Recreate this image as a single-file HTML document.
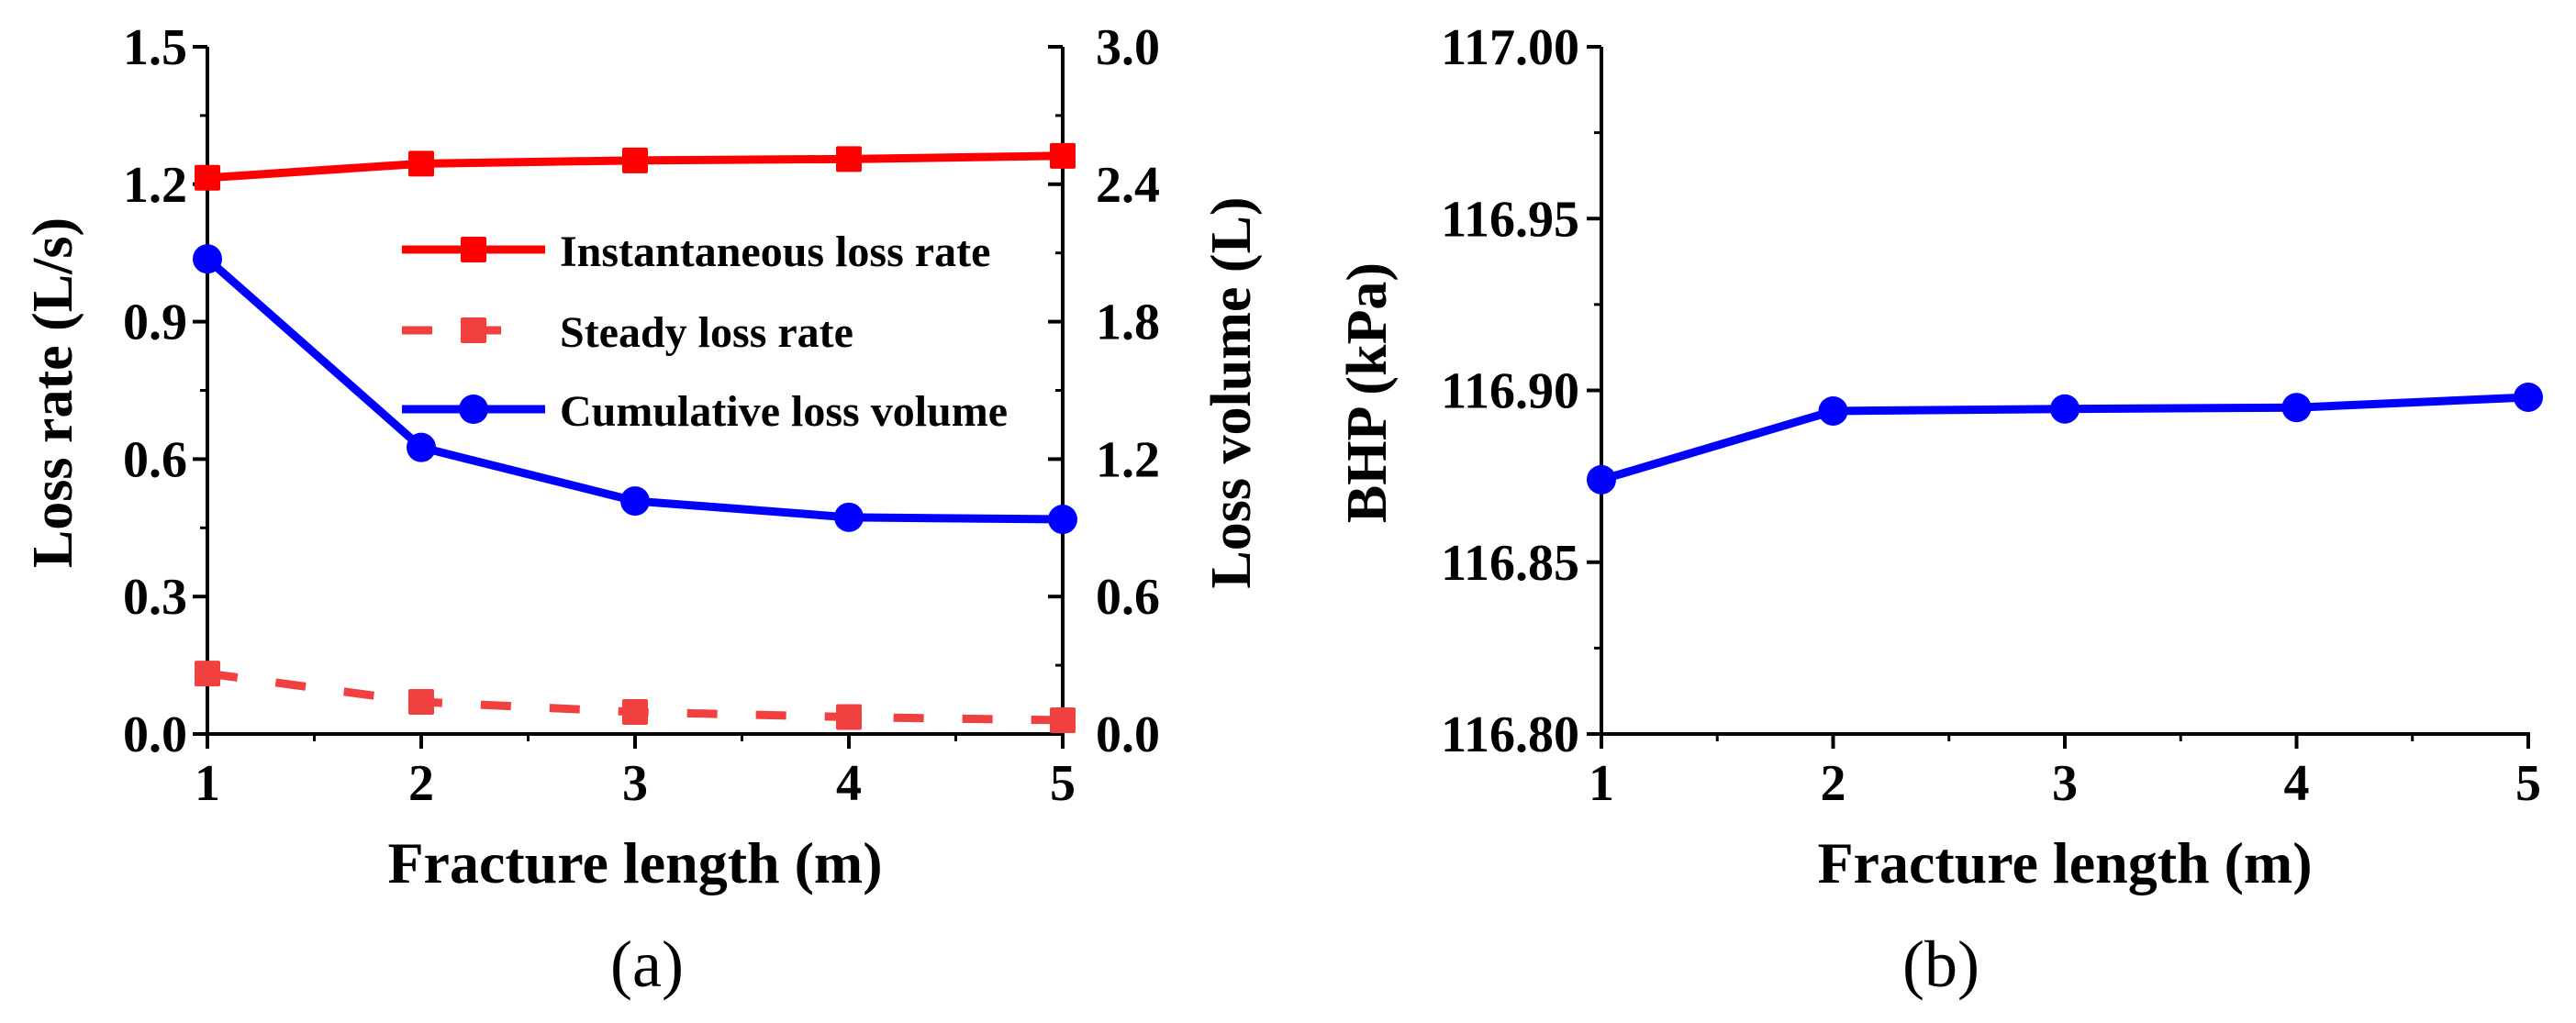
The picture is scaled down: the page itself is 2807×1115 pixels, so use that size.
<!DOCTYPE html>
<html><head><meta charset="utf-8">
<style>
html,body{margin:0;padding:0;background:#fff;}
svg{display:block;}
text{font-family:"Liberation Serif",serif;font-weight:bold;fill:#000;}
</style></head>
<body>
<svg id="fig" width="2807" height="1115" viewBox="0 0 2807 1115"></svg>
<script>
const xCats=[1,2,3,4,5];
const instRate=[1.214,1.245,1.252,1.255,1.262];
const steadyRate=[0.132,0.070,0.048,0.037,0.030];
const cumVol=[2.074,1.251,1.017,0.946,0.937];
const bhp=[116.874,116.894,116.8946,116.895,116.898];
const leftTicks=["0.0","0.3","0.6","0.9","1.2","1.5"];
const rightTicks=["0.0","0.6","1.2","1.8","2.4","3.0"];
const bhpTicks=["116.80","116.85","116.90","116.95","117.00"];
const xTicks=["1","2","3","4","5"];

const NS="http://www.w3.org/2000/svg";
const svg=document.getElementById('fig');
function mk(tag,attrs,parent){const e=document.createElementNS(NS,tag);for(const k in attrs)e.setAttribute(k,attrs[k]);(parent||svg).appendChild(e);return e;}
function txt(s,attrs,parent){const t=mk('text',attrs,parent);t.textContent=s;return t;}

const yTop=51,yBot=800;
const A={x0:226,x1:1158};
const B={x0:1745,x1:2755};
const xA=v=>A.x0+(v-1)/4*(A.x1-A.x0);
const xB=v=>B.x0+(v-1)/4*(B.x1-B.x0);
const yL=v=>yBot-v/1.5*(yBot-yTop);
const yR=v=>yBot-v/3*(yBot-yTop);
const yB=v=>yBot-(v-116.8)/0.2*(yBot-yTop);
const LW=9;

// ----- panel a -----
const ga=mk('g',{});


mk('line',{x1:A.x0,y1:yTop,x2:A.x0,y2:yBot+2,stroke:'#000','stroke-width':4},ga);
mk('line',{x1:A.x1,y1:yTop,x2:A.x1,y2:yBot+2,stroke:'#000','stroke-width':4},ga);
mk('line',{x1:A.x0-2,y1:yBot,x2:A.x1+2,y2:yBot,stroke:'#000','stroke-width':4},ga);
for(let i=0;i<leftTicks.length;i++){
  const v=i*0.3,y=yL(v);
  mk('line',{x1:A.x0-16,y1:y,x2:A.x0,y2:y,stroke:'#000','stroke-width':4},ga);
  if(i<5){const ym=yL(v+0.15);mk('line',{x1:A.x0-8,y1:ym,x2:A.x0,y2:ym,stroke:'#000','stroke-width':3},ga);}
  const t=txt(leftTicks[i],{x:A.x0-22,y:y+19,'font-size':56,'text-anchor':'end'},ga);
  
  
  const yr=yR(i*0.6);
  mk('line',{x1:A.x1-16,y1:yr,x2:A.x1,y2:yr,stroke:'#000','stroke-width':4},ga);
  if(i<5){const ym=yR(i*0.6+0.3);mk('line',{x1:A.x1-8,y1:ym,x2:A.x1,y2:ym,stroke:'#000','stroke-width':3},ga);}
  const t2=txt(rightTicks[i],{x:A.x1+36,y:yr+19,'font-size':56,'text-anchor':'start'},ga);
  
  
}
for(let i=0;i<xTicks.length;i++){
  const x=xA(xCats[i]);
  mk('line',{x1:x,y1:yBot,x2:x,y2:yBot+16,stroke:'#000','stroke-width':4},ga);
  if(i<4){const xm=xA(xCats[i]+0.5);mk('line',{x1:xm,y1:yBot,x2:xm,y2:yBot+8,stroke:'#000','stroke-width':3},ga);}
  const t=txt(xTicks[i],{x:x,y:872,'font-size':56,'text-anchor':'middle'},ga);
  
  
}
let t;
t=txt('Fracture length (m)',{x:(A.x0+A.x1)/2,y:962,'font-size':64,'text-anchor':'middle'},ga);

t=txt('Loss rate (L/s)',{x:0,y:0,'font-size':62,'text-anchor':'middle',transform:'translate(78,428) rotate(-90)'},ga);

t=txt('Loss volume (L)',{x:0,y:0,'font-size':62,'text-anchor':'middle',transform:'translate(1362,428) rotate(-90)'},ga);

t=txt('(a)',{x:705,y:1075,'font-size':72,'text-anchor':'middle',style:'font-weight:normal'},ga);


function poly(xs,ys,color,dash,name,parent){
  const p=mk('polyline',{points:xs.map((x,i)=>x+','+ys[i]).join(' '),fill:'none',stroke:color,'stroke-width':LW,'stroke-dasharray':dash||'none'},parent);
  
  
}
function sq(x,y,c,name,parent){const r=mk('rect',{x:x-14,y:y-14,width:28,height:28,rx:2,fill:c},parent);}
function circ(x,y,c,name,parent){const r=mk('circle',{cx:x,cy:y,r:16,fill:c},parent);}

poly(xCats.map(xA),instRate.map(yL),'#ff0000',null,'instantaneous-loss-rate-line',ga);
poly(xCats.map(xA),steadyRate.map(yL),'#f04040','33 42','steady-loss-rate-line',ga);
poly(xCats.map(xA),cumVol.map(yR),'#0000ff',null,'cumulative-loss-volume-line',ga);
xCats.forEach((c,i)=>{
  sq(xA(c),yL(instRate[i]),'#ff0000','instantaneous-point',ga);
  sq(xA(c),yL(steadyRate[i]),'#f04040','steady-point',ga);
  circ(xA(c),yR(cumVol[i]),'#0000ff','cumulative-point',ga);
});
// legend
const lg=mk('g',{},ga);


const legY=[272,360,446];
mk('line',{x1:438,y1:legY[0],x2:594,y2:legY[0],stroke:'#ff0000','stroke-width':LW},lg);sq(516,legY[0],'#ff0000','legend-marker-instantaneous',lg);
mk('line',{x1:438,y1:legY[1],x2:570,y2:legY[1],stroke:'#f04040','stroke-width':LW,'stroke-dasharray':'33 42'},lg);sq(516,legY[1],'#f04040','legend-marker-steady',lg);
mk('line',{x1:438,y1:legY[2],x2:594,y2:legY[2],stroke:'#0000ff','stroke-width':LW},lg);circ(516,legY[2],'#0000ff','legend-marker-cumulative',lg);
['Instantaneous loss rate','Steady loss rate','Cumulative loss volume'].forEach((s,i)=>{
  const e=txt(s,{x:610,y:legY[i]+18,'font-size':48},lg);
  
  
});

// ----- panel b -----
const gb=mk('g',{});


mk('line',{x1:B.x0,y1:yTop,x2:B.x0,y2:yBot+2,stroke:'#000','stroke-width':4},gb);
mk('line',{x1:B.x0-2,y1:yBot,x2:B.x1+2,y2:yBot,stroke:'#000','stroke-width':4},gb);
for(let i=0;i<bhpTicks.length;i++){
  const v=116.8+i*0.05,y=yB(v);
  mk('line',{x1:B.x0-16,y1:y,x2:B.x0,y2:y,stroke:'#000','stroke-width':4},gb);
  if(i<4){const ym=yB(v+0.025);mk('line',{x1:B.x0-8,y1:ym,x2:B.x0,y2:ym,stroke:'#000','stroke-width':3},gb);}
  const e=txt(bhpTicks[i],{x:B.x0-24,y:y+19,'font-size':56,'text-anchor':'end'},gb);
  
  
}
for(let i=0;i<xTicks.length;i++){
  const x=xB(xCats[i]);
  mk('line',{x1:x,y1:yBot,x2:x,y2:yBot+16,stroke:'#000','stroke-width':4},gb);
  if(i<4){const xm=xB(xCats[i]+0.5);mk('line',{x1:xm,y1:yBot,x2:xm,y2:yBot+8,stroke:'#000','stroke-width':3},gb);}
  const e=txt(xTicks[i],{x:x,y:872,'font-size':56,'text-anchor':'middle'},gb);
  
  
}
t=txt('Fracture length (m)',{x:(B.x0+B.x1)/2,y:962,'font-size':64,'text-anchor':'middle'},gb);

t=txt('BHP (kPa)',{x:0,y:0,'font-size':62,'text-anchor':'middle',transform:'translate(1510,428) rotate(-90)'},gb);

t=txt('(b)',{x:2115,y:1075,'font-size':72,'text-anchor':'middle',style:'font-weight:normal'},gb);

poly(xCats.map(xB),bhp.map(yB),'#0000ff',null,'bhp-line',gb);
xCats.forEach((c,i)=>circ(xB(c),yB(bhp[i]),'#0000ff','bhp-point',gb));
</script>
</body></html>
